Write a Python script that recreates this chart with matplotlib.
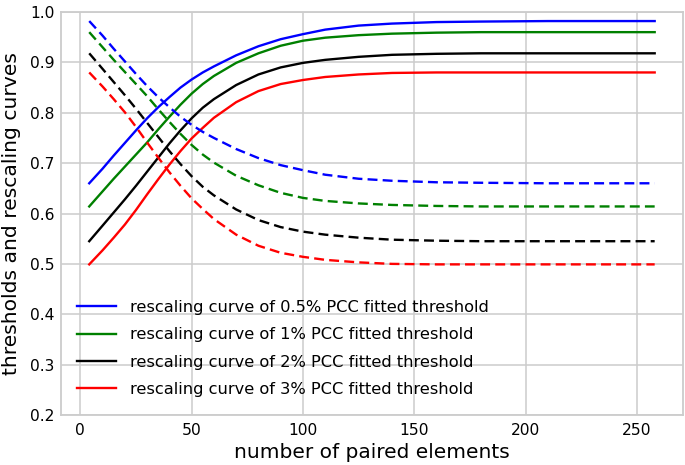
import numpy as np
import matplotlib
matplotlib.use('Agg')
import matplotlib.pyplot as plt

# number of paired elements
n_pairs = [4, 10, 15, 20, 25, 30, 35, 40, 45, 50, 55, 60, 70, 80, 90, 100,
           110, 125, 140, 160, 180, 210, 240, 258]

# rescaling curves (solid)
rescale_05 = [0.660, 0.689, 0.715, 0.740, 0.765, 0.789, 0.811, 0.831, 0.850, 0.866, 0.880, 0.892,
              0.914, 0.932, 0.946, 0.956, 0.965, 0.973, 0.977, 0.980, 0.981, 0.982, 0.982, 0.982]
rescale_1 = [0.614, 0.644, 0.669, 0.693, 0.717, 0.741, 0.767, 0.792, 0.816, 0.838, 0.857, 0.873,
             0.899, 0.918, 0.933, 0.943, 0.949, 0.954, 0.957, 0.959, 0.960, 0.960, 0.960, 0.960]
rescale_2 = [0.545, 0.576, 0.602, 0.628, 0.655, 0.683, 0.711, 0.739, 0.765, 0.789, 0.810, 0.827,
             0.855, 0.876, 0.890, 0.899, 0.905, 0.911, 0.915, 0.917, 0.918, 0.918, 0.918, 0.918]
rescale_3 = [0.499, 0.527, 0.552, 0.578, 0.607, 0.638, 0.668, 0.697, 0.724, 0.749, 0.770, 0.790,
             0.821, 0.843, 0.857, 0.865, 0.871, 0.876, 0.879, 0.880, 0.880, 0.880, 0.880, 0.880]

# fitted PCC thresholds (dashed)
thresh_05 = [0.982, 0.953, 0.927, 0.902, 0.877, 0.853, 0.831, 0.811, 0.792, 0.776, 0.762, 0.750,
             0.728, 0.710, 0.696, 0.686, 0.677, 0.669, 0.665, 0.662, 0.661, 0.660, 0.660, 0.660]
thresh_1 = [0.960, 0.930, 0.905, 0.881, 0.857, 0.833, 0.807, 0.782, 0.758, 0.736, 0.717, 0.701,
            0.675, 0.656, 0.641, 0.631, 0.625, 0.620, 0.617, 0.615, 0.614, 0.614, 0.614, 0.614]
thresh_2 = [0.918, 0.887, 0.861, 0.835, 0.808, 0.780, 0.752, 0.724, 0.698, 0.674, 0.653, 0.636,
            0.608, 0.587, 0.573, 0.564, 0.558, 0.552, 0.548, 0.546, 0.545, 0.545, 0.545, 0.545]
thresh_3 = [0.880, 0.852, 0.827, 0.801, 0.772, 0.741, 0.711, 0.682, 0.655, 0.630, 0.609, 0.589,
            0.558, 0.536, 0.522, 0.514, 0.508, 0.503, 0.500, 0.499, 0.499, 0.499, 0.499, 0.499]

labels = ['rescaling curve of 0.5% PCC fitted threshold',
          'rescaling curve of 1% PCC fitted threshold',
          'rescaling curve of 2% PCC fitted threshold',
          'rescaling curve of 3% PCC fitted threshold']
colors = ['blue', 'green', 'black', 'red']
rescales = [rescale_05, rescale_1, rescale_2, rescale_3]
thresholds = [thresh_05, thresh_1, thresh_2, thresh_3]

plt.rcParams['font.family'] = ['DejaVu Sans']

fig = plt.figure(figsize=(6.85, 4.65), dpi=100)
ax = fig.add_axes([0.089, 0.1075, 0.908, 0.8667])

for i in range(4):
    ax.plot(n_pairs, rescales[i], color=colors[i], lw=1.7, label=labels[i])
for i in range(4):
    ax.plot(n_pairs, thresholds[i], color=colors[i], lw=1.7, ls=(0, (4.2, 2.2)))

ax.set_xlim(-8.7, 270.7)
ax.set_ylim(0.2, 1.0)
ax.set_xticks([0, 50, 100, 150, 200, 250])
ax.set_yticks(np.arange(0.2, 1.01, 0.1))
ax.set_yticklabels(['0.2', '0.3', '0.4', '0.5', '0.6', '0.7', '0.8', '0.9', '1.0'])
ax.grid(color='#cccccc', lw=1.1)
ax.set_axisbelow(True)
for s in ['top', 'left', 'right', 'bottom']:
    ax.spines[s].set_color('#cccccc')
    ax.spines[s].set_linewidth(1.3)
ax.tick_params(axis='both', length=0, labelsize=11.2)
ax.tick_params(axis='y', pad=4.5)
ax.tick_params(axis='x', pad=6)

ax.set_xlabel('number of paired elements', fontsize=14.5, labelpad=3)
ax.set_ylabel('thresholds and rescaling curves', fontsize=14.6)
ax.yaxis.set_label_coords(-0.065, 0.5)

ax.legend(loc='upper left', bbox_to_anchor=(76.5 / 685, 1 - 300 / 465),
          bbox_transform=fig.transFigure, frameon=False, fontsize=11.7,
          borderpad=0, borderaxespad=0, labelspacing=0.76,
          handlelength=2.46, handletextpad=0.85)

fig.savefig('out.png', dpi=100)
